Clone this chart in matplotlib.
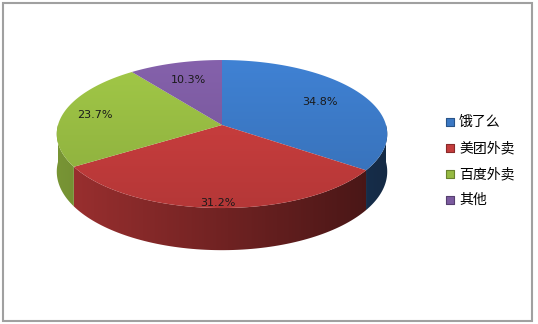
import numpy as np
import matplotlib.pyplot as plt
from matplotlib.patches import Polygon, Rectangle
from matplotlib.colors import to_rgb

plt.rcParams['font.family'] = ['Noto Sans CJK SC', 'DejaVu Sans']

# data
labels = ['饿了么', '美团外卖', '百度外卖', '其他']
shares = [34.8, 31.2, 23.7, 10.3]
colors = ['#3b78c4', '#c43c3c', '#96ba42', '#7b5a9f']

# layout, in pixels
W, H = 538, 324
cx, cy = 222, 125          # apex of the pie
A, B, P = 164, 72.9, 0.122  # half width, half height, perspective
DEPTH = 37
label_r = [0.7, 0.95, 0.8, 0.7]


def project(phi_deg, r=1.0, dz=0.0):
    phi = np.radians(phi_deg)
    u = r * np.cos(phi)
    v = r * np.sin(phi)
    s = 1.0 / (1 + P * v)
    return cx + A * u * s, cy - B * v * s + dz * s


def gradient_fill(ax, xy, rgb, factor, z):
    # draw an image shaded by factor(X, Y), clipped to the polygon
    poly = Polygon(xy, closed=True, facecolor='none', edgecolor='none')
    ax.add_patch(poly)
    Y, X = np.mgrid[0:H, 0:W] + 0.5
    f = factor(X, Y)[..., None]
    img = np.clip(np.array(rgb)[None, None, :] * f, 0, 1)
    im = ax.imshow(img, extent=(0, W, H, 0), origin='upper',
                   interpolation='bilinear', zorder=z)
    im.set_clip_path(poly)


fig = plt.figure(figsize=(W / 100, H / 100), dpi=100)
ax = fig.add_axes([0, 0, 1, 1])
ax.set_xlim(0, W)
ax.set_ylim(H, 0)
ax.axis('off')

# outer frame
ax.add_patch(Rectangle((3, 3), 529, 318, facecolor='white',
                       edgecolor='#a0a0a0', linewidth=1.5, zorder=0))

bounds = 90 - 360 * np.concatenate([[0], np.cumsum(shares)]) / 100.0

for i, col in enumerate(colors):
    rgb = to_rgb(col)
    start, end = bounds[i], bounds[i + 1]

    # side wall, only the front half is visible
    a, b = min(start, 0), max(end, -180)
    if a > b:
        phis = np.linspace(a, b, 80)
        tx, ty = project(phis)
        bx, by = project(phis, dz=DEPTH)
        xy = np.column_stack([np.concatenate([tx, bx[::-1]]),
                              np.concatenate([ty, by[::-1]])])
        gradient_fill(ax, xy, rgb,
                      lambda X, Y: 0.8 - 0.45 * (X - 58) / 328, 1)

    # top face
    phis = np.linspace(start, end, 120)
    tx, ty = project(phis)
    xy = np.column_stack([np.concatenate([[cx], tx]),
                          np.concatenate([[cy], ty])])
    gradient_fill(ax, xy, rgb,
                  lambda X, Y: 1.08 - 0.16 * (Y - 60) / 150, 2)

    # data label
    mid = (start + end) / 2
    lx, ly = project(mid, r=label_r[i])
    ax.text(lx, ly, f"{shares[i]:.1f}%", ha='center', va='center',
            fontsize=8, family='DejaVu Sans', color='#1a1a1a', zorder=3)

# legend
for i, (lab, col) in enumerate(zip(labels, colors)):
    y = 122 + 26 * i
    edge = np.array(to_rgb(col)) * 0.7
    ax.scatter([450], [y], marker='s', s=26, color=col,
               edgecolors=[edge], linewidths=0.8, zorder=3)
    ax.text(459, y, lab, ha='left', va='center', fontsize=10,
            color='black', zorder=3)

fig.savefig('out.png', dpi=100)
